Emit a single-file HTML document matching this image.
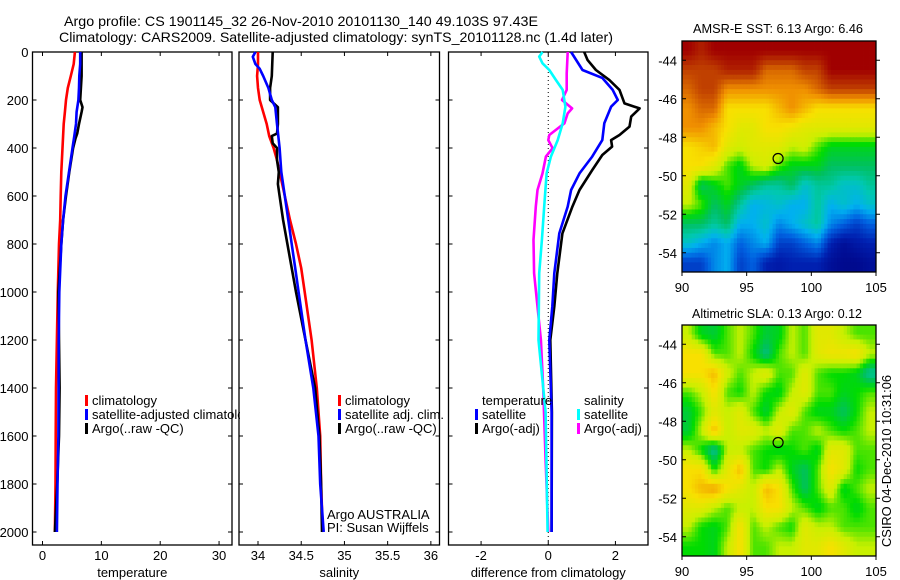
<!DOCTYPE html>
<html><head><meta charset="utf-8">
<style>
html,body{margin:0;padding:0;background:#fff;}
svg{display:block;font-family:"Liberation Sans",sans-serif;}
</style></head>
<body>
<svg id="fig" width="900" height="580" viewBox="0 0 900 580" xmlns="http://www.w3.org/2000/svg">
<defs><clipPath id="clipLeg"><rect x="0" y="380" width="240" height="80"/></clipPath></defs>
<text x="64" y="26" font-size="14" textLength="474" lengthAdjust="spacingAndGlyphs">Argo profile: CS 1901145_32 26-Nov-2010 20101130_140 49.103S 97.43E</text>
<text x="59" y="42" font-size="14" textLength="554" lengthAdjust="spacingAndGlyphs">Climatology: CARS2009. Satellite-adjusted climatology: synTS_20101128.nc (1.4d later)</text>
<g id="g1"></g>
<g id="g2"></g>
<g id="g3"></g>
<g id="m1"></g>
<g id="m2"></g>
<text x="693" y="33" font-size="13" textLength="170" lengthAdjust="spacingAndGlyphs">AMSR-E SST: 6.13 Argo: 6.46</text>
<text x="692" y="318" font-size="13" textLength="170" lengthAdjust="spacingAndGlyphs">Altimetric SLA: 0.13 Argo: 0.12</text>
<text transform="translate(891,547) rotate(-90)" font-size="13" textLength="172" lengthAdjust="spacingAndGlyphs">CSIRO 04-Dec-2010 10:31:06</text>
</svg>
<script>
// ---------- data ----------
const depthTicks = [0,200,400,600,800,1000,1200,1400,1600,1800,2000];
const tempTicks = [0,10,20,30];
const salTicks = [34,34.5,35,35.5,36];
const diffTicks = [-2,0,2];

const tClimDepth = [0,50,100,150,200,250,300,350,400,500,600,700,800,1000,1200,1400,1600,1800,2000];
const tClim = [5.5,5.3,4.8,4.3,4.0,3.8,3.6,3.5,3.4,3.2,3.1,3.0,2.8,2.6,2.45,2.3,2.25,2.2,2.1];
const tSatDepth = [0,50,100,150,200,250,300,350,400,500,600,700,800,1000,1200,1400,1600,1800,2000];
const tSat = [6.4,6.4,6.25,6.2,6.1,5.8,5.7,5.4,5.1,4.5,3.9,3.5,3.2,2.85,2.75,2.73,2.7,2.55,2.45];
const tArgoDepth = [0,100,200,230,250,300,340,360,400,500,600,700,800,1000,1200,1400,1600,1800,2000];
const tArgo = [6.65,6.65,6.4,6.8,6.65,6.2,5.9,5.6,5.2,4.55,4.0,3.5,3.2,2.7,2.8,2.9,2.8,2.5,2.1];

const sClimDepth = [0,50,100,150,200,250,300,350,400,450,500,600,700,800,900,1000,1200,1400,1600,1800,2000];
const sClim = [34.0,34.0,33.99,34.0,34.02,34.06,34.10,34.13,34.18,34.22,34.25,34.31,34.37,34.44,34.50,34.54,34.62,34.68,34.72,34.73,34.75];
const sSatDepth = [0,20,50,70,100,150,200,230,300,400,500,600,700,800,900,1000,1200,1400,1600,1800,2000];
const sSat = [33.97,33.94,33.97,34.02,34.06,34.12,34.16,34.20,34.22,34.25,34.27,34.31,34.35,34.39,34.43,34.47,34.55,34.64,34.70,34.72,34.76];
const sArgoDepth = [0,100,150,200,230,300,340,350,380,400,450,500,550,600,700,800,900,1000,1200,1400,1600,1800,2000];
const sArgo = [34.17,34.16,34.14,34.14,34.23,34.23,34.22,34.16,34.17,34.22,34.22,34.24,34.23,34.25,34.29,34.34,34.39,34.44,34.55,34.66,34.71,34.73,34.74];

const dTSatDepth = [0,75,108,158,200,228,297,367,436,506,575,644,756,922,1061,1200,1500,2000];
const dTSat = [0.68,1.02,1.61,1.92,2.07,1.87,1.67,1.61,1.31,0.93,0.68,0.58,0.33,0.18,0.12,0.03,0.10,0.10];
const dTArgoDepth = [0,33,75,117,158,214,235,269,311,346,367,394,429,492,575,644,756,922,1061,1200,1500,2000];
const dTArgo = [1.07,1.17,1.42,1.82,2.12,2.27,2.72,2.47,2.42,2.12,1.87,1.90,1.61,1.31,0.93,0.72,0.42,0.27,0.18,0.06,0.11,0.10];
const dSSatDepth = [0,19,47,75,117,158,228,297,367,436,506,644,783,922,1200,1500,2000];
const dSSat = [-0.17,-0.27,-0.17,0.03,0.23,0.43,0.51,0.43,0.28,0.08,-0.05,-0.12,-0.19,-0.27,-0.29,-0.08,-0.02];
const dSArgoDepth = [0,89,158,200,235,256,297,346,367,401,436,506,575,644,783,922,1061,1200,1400,1700,2000];
const dSArgo = [0.58,0.55,0.55,0.41,0.71,0.58,0.48,0.03,0.0,0.13,-0.07,-0.17,-0.32,-0.37,-0.44,-0.42,-0.32,-0.22,-0.15,-0.08,0.0];

// map grids: rows from -43 (north) to -55 (south), cols 90..105 (1 degree)
const mapLonTicks = [90,95,100,105];
const mapLatTicks = [-44,-46,-48,-50,-52,-54];
const argoLon = 97.43, argoLat = -49.103;
const sstGrid = [
[10,9.5,10,10,10,10,10,10,10,10,10,10,10,10,10],
[9,9,9,9.5,9.5,9.5,8.5,8.5,8.5,9,9,10,10,10,10],
[8.5,9,9,8,8,8,8,8,8,8,8.5,9,9,9,9],
[8,8.5,8.5,7,7,7,7,7.5,8,7.5,7,7,7,7,7],
[8,8,7.5,7,6.5,6.5,7,7,6.8,6.5,6.5,6.5,6.5,6.5,6.5],
[7,7.2,7.5,6.5,6.2,6.5,6.5,6.5,6,6.2,5.5,5,5,5,5],
[7,7,6.5,5.5,5,6,6.3,5.5,5,5,5,4.5,4.5,4.5,4.5],
[6.5,4.5,5,5.5,5,4.5,4,4,4.5,3.5,4,4,3.5,3.5,4],
[6,5.5,4.5,5,4,3,3.2,3.5,3,3,4,3,3.5,3,3.5],
[4.5,4.5,4,4.5,3,3,3.5,2.5,3,3.5,4,2.5,2,1.5,2],
[3.5,3,2.5,3,2,2.5,3,1.5,1.5,2,2.5,1,0.5,0.8,1],
[1.5,1.5,2.5,3,1.5,2,1,0.8,1,1,1,0.5,0.3,0.3,0.5]];
const slaGrid = [
[6,5,4.8,5.5,6,5.5,4.8,5,6,5.5,6.5,6.5,6,5.5,5.5],
[7,7,5.5,5.5,6,5.2,4.2,5.5,6,5.5,6.5,6.8,6.8,7,6],
[7,7,7.5,6.2,5.5,6,6.5,5.5,5.5,6.5,5.5,5.2,5.2,5,4],
[5.5,6,7,5.5,5.2,6,5.2,5,6,6.5,5.5,5.5,5,5.2,5.5],
[4.8,5.5,6.5,6,6.5,5.5,4.8,6,6.5,5.5,5,5,4.5,5.2,6],
[4.8,6,7.5,6,6.5,6.5,6,6.5,5.5,5.5,6,5.5,5.2,5.5,6],
[6,5.2,4,6,6,5.5,5.2,5,5.2,5.5,5,6.5,6.5,5.5,5.5],
[7,7,5.2,6.5,7.5,5.5,5.2,6,5,4.5,5.5,7,6.5,5.2,5.5],
[7,7.5,7.8,7,6.5,6,7.5,7,5.5,4.5,5.5,6.5,5,5.5,6],
[6.5,6.5,6,5.5,6,6,7,7,6,5.5,5,5.5,5.5,5,5.5],
[6,5.2,5,5.5,7,5.5,6,5.5,5.2,6.5,6,6,5.5,5.5,5.5],
[5.2,5.2,5,6,7,5.5,5.5,6,6,6.5,6.5,7,6.5,6,6]];

// ---------- helpers ----------
const NS = "http://www.w3.org/2000/svg";
function mk(parent, tag, attrs, txt){
  const e = document.createElementNS(NS, tag);
  for (const k in attrs) e.setAttribute(k, attrs[k]);
  if (txt !== undefined) e.textContent = txt;
  parent.appendChild(e);
  return e;
}
const Y0 = 52, YB = 545;
const yD = d => Y0 + d * 0.24;

function panel(g, name, left, right, xmin, xmax, xticks, xlabel, ylabels){
  const xs = v => left + (v - xmin) / (xmax - xmin) * (right - left);
  const frame = mk(g, 'rect', {x:left, y:Y0, width:right-left, height:YB-Y0, fill:'none', stroke:'#000', 'stroke-width':1.3});
  
  
  depthTicks.forEach(d => {
    const y = yD(d);
    const t1 = mk(g, 'line', {x1:left, x2:left+4, y1:y, y2:y, stroke:'#000'});
    
    
    const t2 = mk(g, 'line', {x1:right-4, x2:right, y1:y, y2:y, stroke:'#000'});
    
    
    if (ylabels){
      const lb = mk(g, 'text', {x:left-4, y:y+5, 'font-size':13, 'text-anchor':'end'}, String(d));
      
      
    }
  });
  xticks.forEach(v => {
    const x = xs(v);
    const t1 = mk(g, 'line', {x1:x, x2:x, y1:YB, y2:YB-4, stroke:'#000'});
    
    
    const t2 = mk(g, 'line', {x1:x, x2:x, y1:Y0, y2:Y0+4, stroke:'#000'});
    
    
    const lb = mk(g, 'text', {x:x, y:560, 'font-size':13, 'text-anchor':'middle'}, String(v));
    
    
  });
  const al = mk(g, 'text', {x:(left+right)/2, y:577, 'font-size':13, 'text-anchor':'middle'}, xlabel);
  
  
  return xs;
}
function line(g, name, xs, depths, vals, color){
  const pts = depths.map((d,i) => xs(vals[i]).toFixed(1) + ',' + yD(d).toFixed(1)).join(' ');
  const p = mk(g, 'polyline', {points:pts, fill:'none', stroke:color, 'stroke-width':2.6, 'stroke-linejoin':'round'});
  
  
}
function legend(g, name, x, y, color, label){
  const r = mk(g, 'rect', {x:x, y:y-10, width:3, height:11, fill:color});
  
  
  const t = mk(g, 'text', {x:x+7, y:y, 'font-size':13}, label);
  
  
  return t;
}

// ---------- panels ----------
const g1 = document.getElementById('g1');
const xT = panel(g1, 'temperature', 32.5, 232, -1.7, 32.2, tempTicks, 'temperature', true);
line(g1, 'temp-climatology-line', xT, tClimDepth, tClim, '#f00');
line(g1, 'temp-argo-line', xT, tArgoDepth, tArgo, '#000');
line(g1, 'temp-satellite-line', xT, tSatDepth, tSat, '#00f');
mk(g1,'rect',{x:232.7,y:400,width:5.6,height:40,fill:'#fff'});
legend(g1, 'legend-climatology', 85, 405, '#f00', 'climatology');
const longLeg = legend(g1, 'legend-satellite-adjusted', 85, 419, '#00f', 'satellite-adjusted climatology');
longLeg.setAttribute('clip-path', 'url(#clipLeg)');
legend(g1, 'legend-argo', 85, 433, '#000', 'Argo(..raw -QC)');

const g2 = document.getElementById('g2');
const xS = panel(g2, 'salinity', 239, 439.5, 33.78, 36.1, salTicks, 'salinity', false);
line(g2, 'sal-climatology-line', xS, sClimDepth, sClim, '#f00');
line(g2, 'sal-argo-line', xS, sArgoDepth, sArgo, '#000');
line(g2, 'sal-satellite-line', xS, sSatDepth, sSat, '#00f');
legend(g2, 'legend-sal-climatology', 338, 405, '#f00', 'climatology');
legend(g2, 'legend-sal-satellite', 338, 419, '#00f', 'satellite adj. clim.');
legend(g2, 'legend-sal-argo', 338, 433, '#000', 'Argo(..raw -QC)');
const ta = mk(g2, 'text', {x:327, y:519, 'font-size':13}, 'Argo AUSTRALIA');


const tp = mk(g2, 'text', {x:327, y:532, 'font-size':13}, 'PI: Susan Wijffels');



const g3 = document.getElementById('g3');
const xDf = panel(g3, 'difference', 448.5, 648, -2.97, 2.97, diffTicks, 'difference from climatology', false);
const zl = mk(g3, 'line', {x1:xDf(0), x2:xDf(0), y1:Y0, y2:YB, stroke:'#000', 'stroke-dasharray':'1,3'});


line(g3, 'diff-temp-argo-line', xDf, dTArgoDepth, dTArgo, '#000');
line(g3, 'diff-temp-satellite-line', xDf, dTSatDepth, dTSat, '#00f');
line(g3, 'diff-sal-argo-line', xDf, dSArgoDepth, dSArgo, '#f0f');
line(g3, 'diff-sal-satellite-line', xDf, dSSatDepth, dSSat, '#0ff');
const lt = mk(g3, 'text', {x:482, y:405, 'font-size':13}, 'temperature');


const ls = mk(g3, 'text', {x:584, y:405, 'font-size':13}, 'salinity');


legend(g3, 'legend-temp-satellite', 475, 419, '#00f', 'satellite');
legend(g3, 'legend-temp-argo', 475, 433, '#000', 'Argo(-adj)');
legend(g3, 'legend-sal-satellite', 577, 419, '#0ff', 'satellite');
legend(g3, 'legend-sal-argo', 577, 433, '#f0f', 'Argo(-adj)');

// ---------- maps ----------
const stops = [[0,[0,0,128]],[1,[0,32,176]],[2,[0,96,224]],[3,[0,176,240]],[3.8,[0,200,176]],[4.5,[0,192,96]],[5.2,[0,220,0]],[6,[200,240,0]],[7,[248,224,0]],[8,[240,144,0]],[9,[192,64,0]],[10,[160,0,0]]];
function cmap(v){
  for (let i=0;i<stops.length-1;i++){
    const a=stops[i], b=stops[i+1];
    if (v<=b[0]){
      const t=Math.max(0,(v-a[0])/(b[0]-a[0]));
      const c=a[1].map((x,j)=>Math.round(x+(b[1][j]-x)*t));
      return 'rgb('+c.join(',')+')';
    }
  }
  return 'rgb(160,0,0)';
}
function sample(grid, r, c){
  const R = grid.length, C = grid[0].length;
  r = Math.min(Math.max(r,0),R-1); c = Math.min(Math.max(c,0),C-1);
  const r0 = Math.floor(r), c0 = Math.floor(c);
  const r1 = Math.min(r0+1,R-1), c1 = Math.min(c0+1,C-1);
  const fr = r-r0, fc = c-c0;
  return grid[r0][c0]*(1-fr)*(1-fc)+grid[r0][c1]*(1-fr)*fc+grid[r1][c0]*fr*(1-fc)+grid[r1][c1]*fr*fc;
}
function drawMap(g, name, grid, top, bottom){
  const left=682, right=876;
  const xs = lon => left + (lon-90)/15*(right-left);
  const ys = lat => top + (-43-lat)/12*(bottom-top);
  const SUB = 4;
  const R = grid.length, C = grid[0].length;
  for (let r=0;r<R*SUB;r++){
    for (let c=0;c<C*SUB;c++){
      const v = sample(grid, (r+0.5)/SUB-0.5, (c+0.5)/SUB-0.5);
      const x0 = xs(90+c/SUB), y0 = ys(-43-r/SUB);
      const cell = mk(g, 'rect', {x:x0.toFixed(2), y:y0.toFixed(2), width:(xs(90+(c+1)/SUB)-x0+0.4).toFixed(2), height:(ys(-43-(r+1)/SUB)-y0+0.4).toFixed(2), fill:cmap(v)});
      
      
    }
  }
  const fr = mk(g, 'rect', {x:left, y:top, width:right-left, height:bottom-top, fill:'none', stroke:'#000', 'stroke-width':1.3});
  
  
  mapLatTicks.forEach(lat => {
    const y = ys(lat);
    const t = mk(g, 'line', {x1:left, x2:left+4, y1:y, y2:y, stroke:'#000'});
    
    
    const t2 = mk(g, 'line', {x1:right, x2:right+4, y1:y, y2:y, stroke:'#000'});
    
    
    const lb = mk(g, 'text', {x:left-5, y:y+5, 'font-size':13, 'text-anchor':'end'}, String(lat));
    
    
  });
  mapLonTicks.forEach(lon => {
    const x = xs(lon);
    const t = mk(g, 'line', {x1:x, x2:x, y1:bottom, y2:bottom+4, stroke:'#000'});
    
    
    const lb = mk(g, 'text', {x:x, y:bottom+20, 'font-size':13, 'text-anchor':'middle'}, String(lon));
    
    
  });
  const mk1 = mk(g, 'circle', {cx:xs(argoLon), cy:ys(argoLat), r:5, fill:'none', stroke:'#000', 'stroke-width':1.2});
  
  
}
drawMap(document.getElementById('m1'), 'sst-map', sstGrid, 41, 272);
drawMap(document.getElementById('m2'), 'sla-map', slaGrid, 325, 556);
</script>
</body></html>
